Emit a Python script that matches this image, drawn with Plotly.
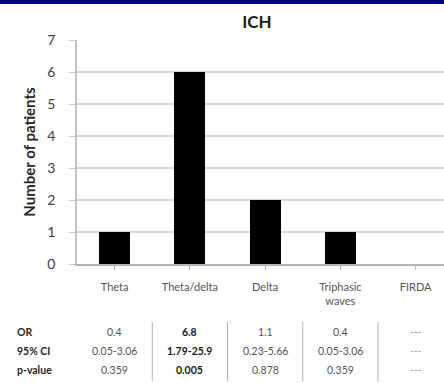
import plotly.graph_objects as go

categories = ["Theta", "Theta/delta", "Delta", "Triphasic waves", "FIRDA"]
tick_text = ["Theta", "Theta/delta", "Delta", "Triphasic<br>waves", "FIRDA"]
counts = [1, 6, 2, 1, 0]
or_vals = ["0.4", "6.8", "1.1", "0.4", "---"]
ci_vals = ["0.05-3.06", "1.79-25.9", "0.23-5.66", "0.05-3.06", "---"]
p_vals = ["0.359", "0.005", "0.878", "0.359", "---"]
significant = [False, True, False, False, False]
row_labels = ["OR", "95% CI", "p-value"]
y_ticks = [0, 1, 2, 3, 4, 5, 6, 7]

W, H = 444, 383
L, R, T, B = 77, 0, 40, 119
PH = H - T - B
PW = W - L - R

def py(pix):
    return (H - B - pix) / PH

def px(pix):
    return (pix - L) / PW

FONT = "Lato, 'Open Sans', sans-serif"
idx = list(range(len(categories)))

fig = go.Figure()
fig.add_trace(go.Bar(x=idx, y=counts, width=0.41, marker=dict(color="#000000", line=dict(width=0)),
                     showlegend=False, hoverinfo="skip"))

# navy band at top
fig.add_shape(type="rect", xref="paper", yref="paper", x0=px(0), x1=1, y0=py(4), y1=py(0),
              fillcolor="#000080", line=dict(width=0), layer="above")

row_y = [332, 351, 370]
rows = [or_vals, ci_vals, p_vals]
annotations = []
for r, (lab, yy) in enumerate(zip(row_labels, row_y)):
    annotations.append(dict(text="<b>" + lab + "</b>", x=px(15), y=py(yy), xref="paper", yref="paper",
                            xanchor="left", yanchor="middle", showarrow=False,
                            font=dict(size=10.5, color="#262626", family=FONT)))
    for i, v in enumerate(rows[r]):
        if v == "---":
            col = "#a6a6a6"
            txt = v
        elif significant[i]:
            col = "#1a1a1a"
            txt = "<b>" + v + "</b>"
        else:
            col = "#555555"
            txt = v
        annotations.append(dict(text=txt, x=i, y=py(yy), xref="x", yref="paper",
                                xanchor="center", yanchor="middle", showarrow=False,
                                font=dict(size=10.5, color=col, family=FONT)))

for i in range(len(categories) - 1):
    fig.add_shape(type="line", xref="x", yref="paper", x0=i + 0.5, x1=i + 0.5,
                  y0=py(322), y1=py(381), line=dict(color="#b0b0b0", width=1))

fig.update_layout(
    width=W, height=H,
    margin=dict(l=L, r=R, t=T, b=B, autoexpand=False),
    paper_bgcolor="white", plot_bgcolor="white",
    title=dict(text="<b>ICH</b>", x=257 / W, xanchor="center", y=1 - 22 / H, yanchor="middle",
               font=dict(size=17, color="#1a1a1a", family=FONT)),
    annotations=annotations,
    xaxis=dict(range=[-0.5, -0.5 + PW / 75.25], tickmode="array", tickvals=idx, ticktext=tick_text,
               tickson="boundaries", ticks="outside", ticklen=4, tickcolor="#b5b5b5",
               showline=True, linecolor="#b5b5b5", linewidth=1.5, showgrid=False, zeroline=False,
               tickfont=dict(size=11, color="#555555", family=FONT), ticklabelstandoff=8,
               fixedrange=True),
    yaxis=dict(range=[0, 7], tickvals=y_ticks, ticks="outside", ticklen=6, tickcolor="#c8c8c8",
               showline=True, linecolor="#c0c0c0", linewidth=1.5,
               showgrid=True, gridcolor="#d9d9d9", gridwidth=1.5, zeroline=False,
               tickfont=dict(size=14, color="#404040", family=FONT), ticklabelstandoff=11,
               title=dict(text="<b>Number of patients</b>", standoff=8,
                          font=dict(size=15, color="#262626", family=FONT)),
               fixedrange=True),
    bargap=0,
)

fig.write_html("out.html", config={"displayModeBar": False})
